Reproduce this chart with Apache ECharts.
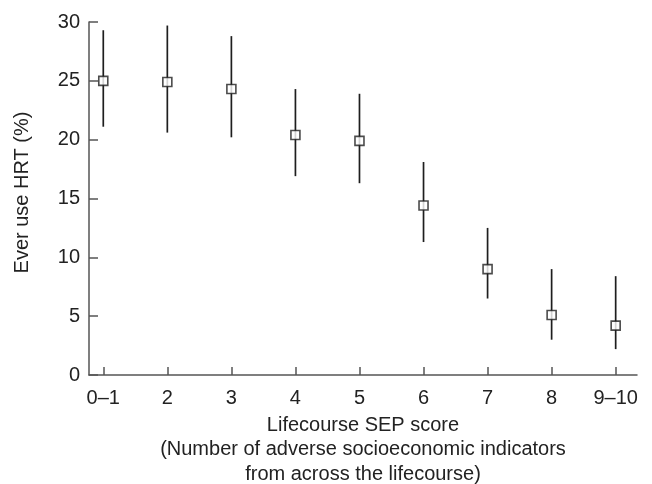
<!DOCTYPE html>
<html>
<head>
<meta charset="utf-8">
<script src="https://cdn.jsdelivr.net/npm/echarts@6/dist/echarts.min.js"></script>
<style>
html,body{margin:0;padding:0;background:#fff;}
#chart{width:652px;height:484px;}
</style>
</head>
<body>
<div id="chart"></div>
<script>
var categories = ['0\u20131', '2', '3', '4', '5', '6', '7', '8', '9\u201310'];
var estimates = [25.0, 24.9, 24.3, 20.4, 19.9, 14.4, 9.0, 5.1, 4.2];
var lower = [21.1, 20.6, 20.2, 16.9, 16.3, 11.3, 6.5, 3.0, 2.2];
var upper = [29.3, 29.7, 28.8, 24.3, 23.9, 18.1, 12.5, 9.0, 8.4];
var yTicks = [0, 5, 10, 15, 20, 25, 30];

var positions = categories.map(function (c, i) { return i; });
var pointData = estimates.map(function (v, i) { return [i, v]; });
var errData = lower.map(function (lo, i) { return [i, lo, upper[i]]; });

var FONT = "'Liberation Sans', Arial, Helvetica, sans-serif";
var TEXT = '#222';
var AXIS = '#555';

var chart = echarts.init(document.getElementById('chart'), null, {renderer: 'canvas'});
chart.setOption({
  animation: false,
  backgroundColor: '#fff',
  grid: {left: 89, right: 15, top: 22, bottom: 109, containLabel: false, outerBoundsMode: 'none'},
  xAxis: {
    type: 'value',
    min: -0.223,
    max: 8.333,
    name: 'Lifecourse SEP score\n(Number of adverse socioeconomic indicators\nfrom across the lifecourse)',
    nameLocation: 'middle',
    nameGap: 38,
    nameTextStyle: {fontFamily: FONT, fontSize: 20, color: TEXT, lineHeight: 24.5},
    axisLine: {show: true, onZero: false, lineStyle: {color: AXIS, width: 1.5}},
    axisTick: {show: true, inside: true, length: 8, customValues: positions, lineStyle: {color: AXIS, width: 1.5}},
    axisLabel: {
      show: true, margin: 13, customValues: positions,
      fontFamily: FONT, fontSize: 20, color: TEXT,
      formatter: function (v) { return categories[Math.round(v)]; }
    },
    splitLine: {show: false}
  },
  yAxis: {
    type: 'value',
    min: 0,
    max: 30,
    interval: 5,
    name: 'Ever use HRT (%)',
    nameLocation: 'middle',
    nameGap: 57,
    nameTextStyle: {fontFamily: FONT, fontSize: 20, color: TEXT, padding: [0, 0, 0, 12]},
    axisLine: {show: true, onZero: false, lineStyle: {color: AXIS, width: 1.5}},
    axisTick: {show: true, inside: true, length: 9, lineStyle: {color: AXIS, width: 1.5}},
    axisLabel: {
      margin: 9, fontFamily: FONT, fontSize: 20, color: TEXT,
      formatter: function (v) { return yTicks.indexOf(v) >= 0 ? String(v) : ''; }
    },
    splitLine: {show: false}
  },
  series: [
    {
      type: 'custom',
      data: errData,
      encode: {x: 0, y: [1, 2]},
      renderItem: function (params, api) {
        var x = api.value(0);
        var p1 = api.coord([x, api.value(1)]);
        var p2 = api.coord([x, api.value(2)]);
        return {
          type: 'line',
          shape: {x1: p1[0], y1: p1[1], x2: p2[0], y2: p2[1]},
          style: {stroke: '#1e1e1e', lineWidth: 1.7}
        };
      },
      z: 2
    },
    {
      type: 'scatter',
      data: pointData,
      symbol: 'rect',
      symbolSize: 9,
      itemStyle: {color: '#fff', borderColor: '#1e1e1e', borderWidth: 1.6},
      z: 3
    }
  ]
});
</script>
</body>
</html>
